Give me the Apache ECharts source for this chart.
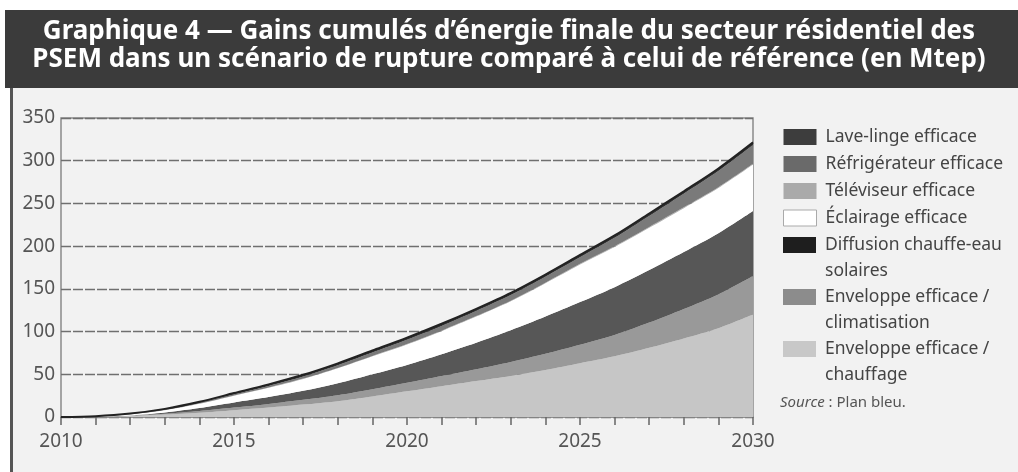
<!DOCTYPE html>
<html>
<head>
<meta charset="utf-8">
<script src="https://cdn.jsdelivr.net/npm/echarts@6/dist/echarts.min.js"></script>
<style>html,body{margin:0;padding:0;background:#fff}</style>
</head>
<body>
<div id="chart" style="width:1018px;height:472px"></div>
<script>
// années 2010 -> 2030
const years = ['2010','2011','2012','2013','2014','2015','2016','2017','2018','2019','2020',
  '2021','2022','2023','2024','2025','2026','2027','2028','2029','2030'];

// gains cumulés (Mtep), du bas vers le haut de la pile
const chauffage   = [0, 0.3, 1.2, 2.8, 5, 8, 11, 14.5, 18.5, 24, 30, 36, 42, 48, 55, 63, 71, 81, 92, 104, 120];
const climatisation = [0, 0.1, 0.4, 1, 2, 3, 4.3, 5.6, 7, 8.5, 10, 12, 14, 16.5, 19, 21.5, 25, 29.5, 34.5, 39.5, 45];
const chauffeEau  = [0, 0, 0.3, 1.5, 3.5, 6, 8, 10.5, 14, 17.5, 21, 25.5, 31, 37, 43.5, 50, 56, 61.5, 66.5, 71.5, 76];
const eclairage   = [0, 0.3, 1.2, 2.7, 5, 8, 11, 14, 17.5, 21, 24, 27, 30.5, 34, 39, 44, 47, 49.5, 51.5, 53, 54.5];
const televiseur  = [0, 0, 0.1, 0.1, 0.2, 0.3, 0.3, 0.4, 0.4, 0.5, 0.5, 0.6, 0.6, 0.7, 0.7, 0.8, 0.8, 0.9, 0.9, 1, 1];
const refrigerateur = [0, 0.1, 0.2, 0.4, 0.8, 1.2, 1.8, 2.4, 3.2, 4, 5, 5.5, 6, 6.5, 7, 7.7, 10, 13, 16, 19, 22];
const laveLinge   = [0, 0.2, 0.6, 1, 1.3, 1.5, 1.8, 2, 2.2, 2.3, 2.4, 2.5, 2.5, 2.6, 2.6, 2.7, 2.7, 2.8, 2.8, 2.9, 3];

const yTicks = [0, 50, 100, 150, 200, 250, 300, 350];

const FONT = 'Noto Sans';

const myChart = echarts.init(document.getElementById('chart'));

function area(name, data, color, lineColor, lineWidth) {
  return {
    name: name,
    type: 'line',
    stack: 'total',
    data: data,
    smooth: 0.3,
    symbol: 'none',
    color: color,
    lineStyle: {width: lineWidth || 0, color: lineColor || color},
    areaStyle: {color: color, opacity: 1}
  };
}

const multi = {
  'Diffusion chauffe-eau solaires': 'Diffusion chauffe-eau\nsolaires',
  'Enveloppe efficace / climatisation': 'Enveloppe efficace /\nclimatisation',
  'Enveloppe efficace / chauffage': 'Enveloppe efficace /\nchauffage'
};

let option = {
  backgroundColor: '#ffffff',
  animation: false,
  graphic: [
    {type: 'rect', shape: {x: 5, y: 10, width: 1013, height: 78}, style: {fill: '#3b3b3b'}, z: -10},
    {type: 'rect', shape: {x: 10, y: 88, width: 1008, height: 384}, style: {fill: '#f2f2f2'}, z: -10},
    {type: 'rect', shape: {x: 10, y: 88, width: 3, height: 384}, style: {fill: '#555555'}, z: -9}
  ],
  title: [
    {
      text: 'Graphique 4 — Gains cumulés d’énergie finale du secteur résidentiel des\nPSEM dans un scénario de rupture comparé à celui de référence (en Mtep)',
      left: 'center',
      top: 18,
      padding: 0,
      textStyle: {color: '#ffffff', fontFamily: FONT, fontWeight: 'bold', fontSize: 26, lineHeight: 28}
    },
    {
      text: '{i|Source} : Plan bleu.',
      left: 780,
      top: 395,
      padding: 0,
      textStyle: {
        color: '#555', fontFamily: FONT, fontSize: 15, fontWeight: 'normal',
        rich: {i: {fontStyle: 'italic', fontWeight: 'normal', color: '#555', fontFamily: FONT, fontSize: 15}}
      }
    }
  ],
  legend: [
    {
      orient: 'vertical',
      left: 783,
      top: 124,
      padding: 0,
      itemWidth: 33,
      itemHeight: 16,
      itemGap: 1,
      icon: 'rect',
      selectedMode: false,
      textStyle: {fontFamily: FONT, fontSize: 17.5, lineHeight: 26, color: '#444', padding: [0, 0, 0, 4]},
      data: [
        {name: 'Lave-linge efficace', itemStyle: {color: '#3d3d3d'}},
        {name: 'Réfrigérateur efficace', itemStyle: {color: '#6a6a6a'}},
        {name: 'Téléviseur efficace', itemStyle: {color: '#aaaaaa'}},
        {name: 'Éclairage efficace', itemStyle: {color: '#ffffff', borderColor: '#aaaaaa', borderWidth: 1}}
      ]
    },
    {
      orient: 'vertical',
      left: 783,
      top: 232,
      padding: 0,
      itemWidth: 33,
      itemHeight: 42,
      itemGap: 0,
      icon: 'path://M0,0L33,0L33,16L0,16Z M0,42',
      selectedMode: false,
      formatter: function (name) { return multi[name] || name; },
      textStyle: {fontFamily: FONT, fontSize: 17.5, lineHeight: 26, color: '#444', padding: [0, 0, 0, 4]},
      data: [
        {name: 'Diffusion chauffe-eau solaires', itemStyle: {color: '#1e1e1e'}},
        {name: 'Enveloppe efficace / climatisation', itemStyle: {color: '#8c8c8c'}},
        {name: 'Enveloppe efficace / chauffage', itemStyle: {color: '#c8c8c8'}}
      ]
    }
  ],
  grid: {
    left: 61, right: 265, top: 118, bottom: 55,
    show: true, borderColor: '#8a8a8a', borderWidth: 1.5, backgroundColor: 'transparent'
  },
  xAxis: {
    type: 'category',
    data: years,
    boundaryGap: false,
    axisLine: {lineStyle: {color: '#8a8a8a', width: 1.5}},
    axisTick: {interval: 0, length: 8, lineStyle: {color: '#666', width: 1.5}},
    axisLabel: {interval: 4, margin: 15, color: '#555', fontFamily: FONT, fontSize: 19}
  },
  yAxis: {
    type: 'value',
    min: yTicks[0],
    max: yTicks[yTicks.length - 1],
    interval: 50,
    axisLine: {show: false},
    axisTick: {show: false},
    axisLabel: {margin: 6, color: '#555', fontFamily: FONT, fontSize: 19},
    splitLine: {lineStyle: {color: '#6f6f6f', width: 1.3, type: [10, 2]}}
  },
  series: [
    area('Enveloppe efficace / chauffage', chauffage, '#c6c6c6'),
    area('Enveloppe efficace / climatisation', climatisation, '#999999'),
    area('Diffusion chauffe-eau solaires', chauffeEau, '#575757'),
    area('Éclairage efficace', eclairage, '#ffffff'),
    area('Téléviseur efficace', televiseur, '#b0b0b0'),
    area('Réfrigérateur efficace', refrigerateur, '#7a7a7a'),
    area('Lave-linge efficace', laveLinge, '#333333', '#222222', 2)
  ]
};

myChart.setOption(option);
</script>
</body>
</html>
